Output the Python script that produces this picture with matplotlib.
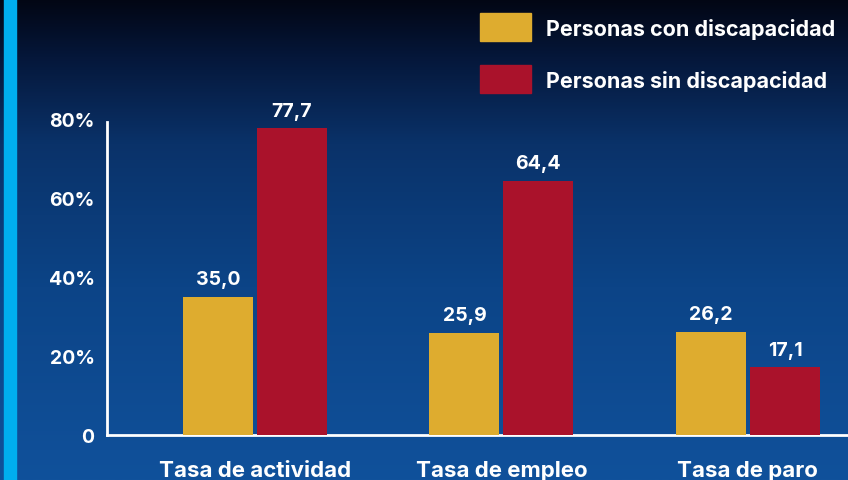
import numpy as np
import matplotlib
matplotlib.use("Agg")
import matplotlib.pyplot as plt
from matplotlib.colors import LinearSegmentedColormap
from matplotlib.patches import Rectangle

# ---- data ----
categories = ["Tasa de actividad", "Tasa de empleo", "Tasa de paro"]
series_names = ["Personas con discapacidad", "Personas sin discapacidad"]
con_disc = [35.0, 25.9, 26.2]
sin_disc = [77.7, 64.4, 17.1]
ytick_values = [0, 20, 40, 60, 80]
ytick_labels = ["0", "20%", "40%", "60%", "80%"]

colors = ["#DEAC2F", "#AA122B"]
FONT = "Inter"
W, H = 848, 481

fig = plt.figure(figsize=(W / 100, H / 100), dpi=100)

# background gradient
bg = fig.add_axes([0, 0, 1, 1], zorder=-10)
cmap = LinearSegmentedColormap.from_list(
    "bg", [(0.0, "#020614"), (0.12, "#05173a"), (0.3, "#0a3269"),
           (0.6, "#0c4487"), (1.0, "#10519b")])
grad = np.linspace(0, 1, 256).reshape(-1, 1)
bg.imshow(grad, aspect="auto", cmap=cmap, extent=[0, W, H, 0])
bg.set_xlim(0, W)
bg.set_ylim(H, 0)
bg.axis("off")

# cyan bar on the left
bg.add_patch(Rectangle((4, 0), 12, H, color="#00AEEF", zorder=2))

# main axes
px_per_unit = 3.95
ymax = 80
ax_left, ax_bottom_px = 107, 436
ax_h = ymax * px_per_unit
ax = fig.add_axes([ax_left / W, (H - ax_bottom_px) / H, (W - ax_left) / W, ax_h / H])
ax.patch.set_alpha(0)

x = np.arange(len(categories))
bw = 0.284
off = 0.150
b1 = ax.bar(x - off, con_disc, bw, color=colors[0], label=series_names[0], zorder=3)
b2 = ax.bar(x + off, sin_disc, bw, color=colors[1], label=series_names[1], zorder=3)

for bars, vals in ((b1, con_disc), (b2, sin_disc)):
    for r, v in zip(bars, vals):
        ax.annotate(f"{v:.1f}".replace(".", ","), (r.get_x() + r.get_width() / 2, v),
                    xytext=(0, 6), textcoords="offset points", ha="center", va="bottom",
                    color="white", fontsize=14, fontweight="bold", family=FONT)

ax.set_xlim(-0.600, 2.406)
ax.set_ylim(0, ymax)
ax.set_xticks(x)
ax.set_xticklabels(categories, color="white", fontsize=16, fontweight="bold", family=FONT)
ax.set_yticks(ytick_values)
ax.set_yticklabels(ytick_labels, color="white", fontsize=14, fontweight="bold", family=FONT)
ax.tick_params(axis="x", length=0, pad=18)
ax.tick_params(axis="y", length=0, pad=9)
for s in ["top", "right"]:
    ax.spines[s].set_visible(False)
for s in ["left", "bottom"]:
    ax.spines[s].set_color("white")
    ax.spines[s].set_linewidth(2)
ax.spines["left"].set_bounds(0, 79.3)

# legend (manual, in pixel coords)
leg_items = [(series_names[0], colors[0], 28), (series_names[1], colors[1], 80)]
for name, col, yc in leg_items:
    bg.add_patch(Rectangle((480, yc - 14), 51, 28, color=col, zorder=5))
    bg.text(546, yc + 1, name, color="white", fontsize=15.5, fontweight="bold",
            family=FONT, va="center", ha="left", zorder=5)

fig.savefig("out.png", dpi=100)
